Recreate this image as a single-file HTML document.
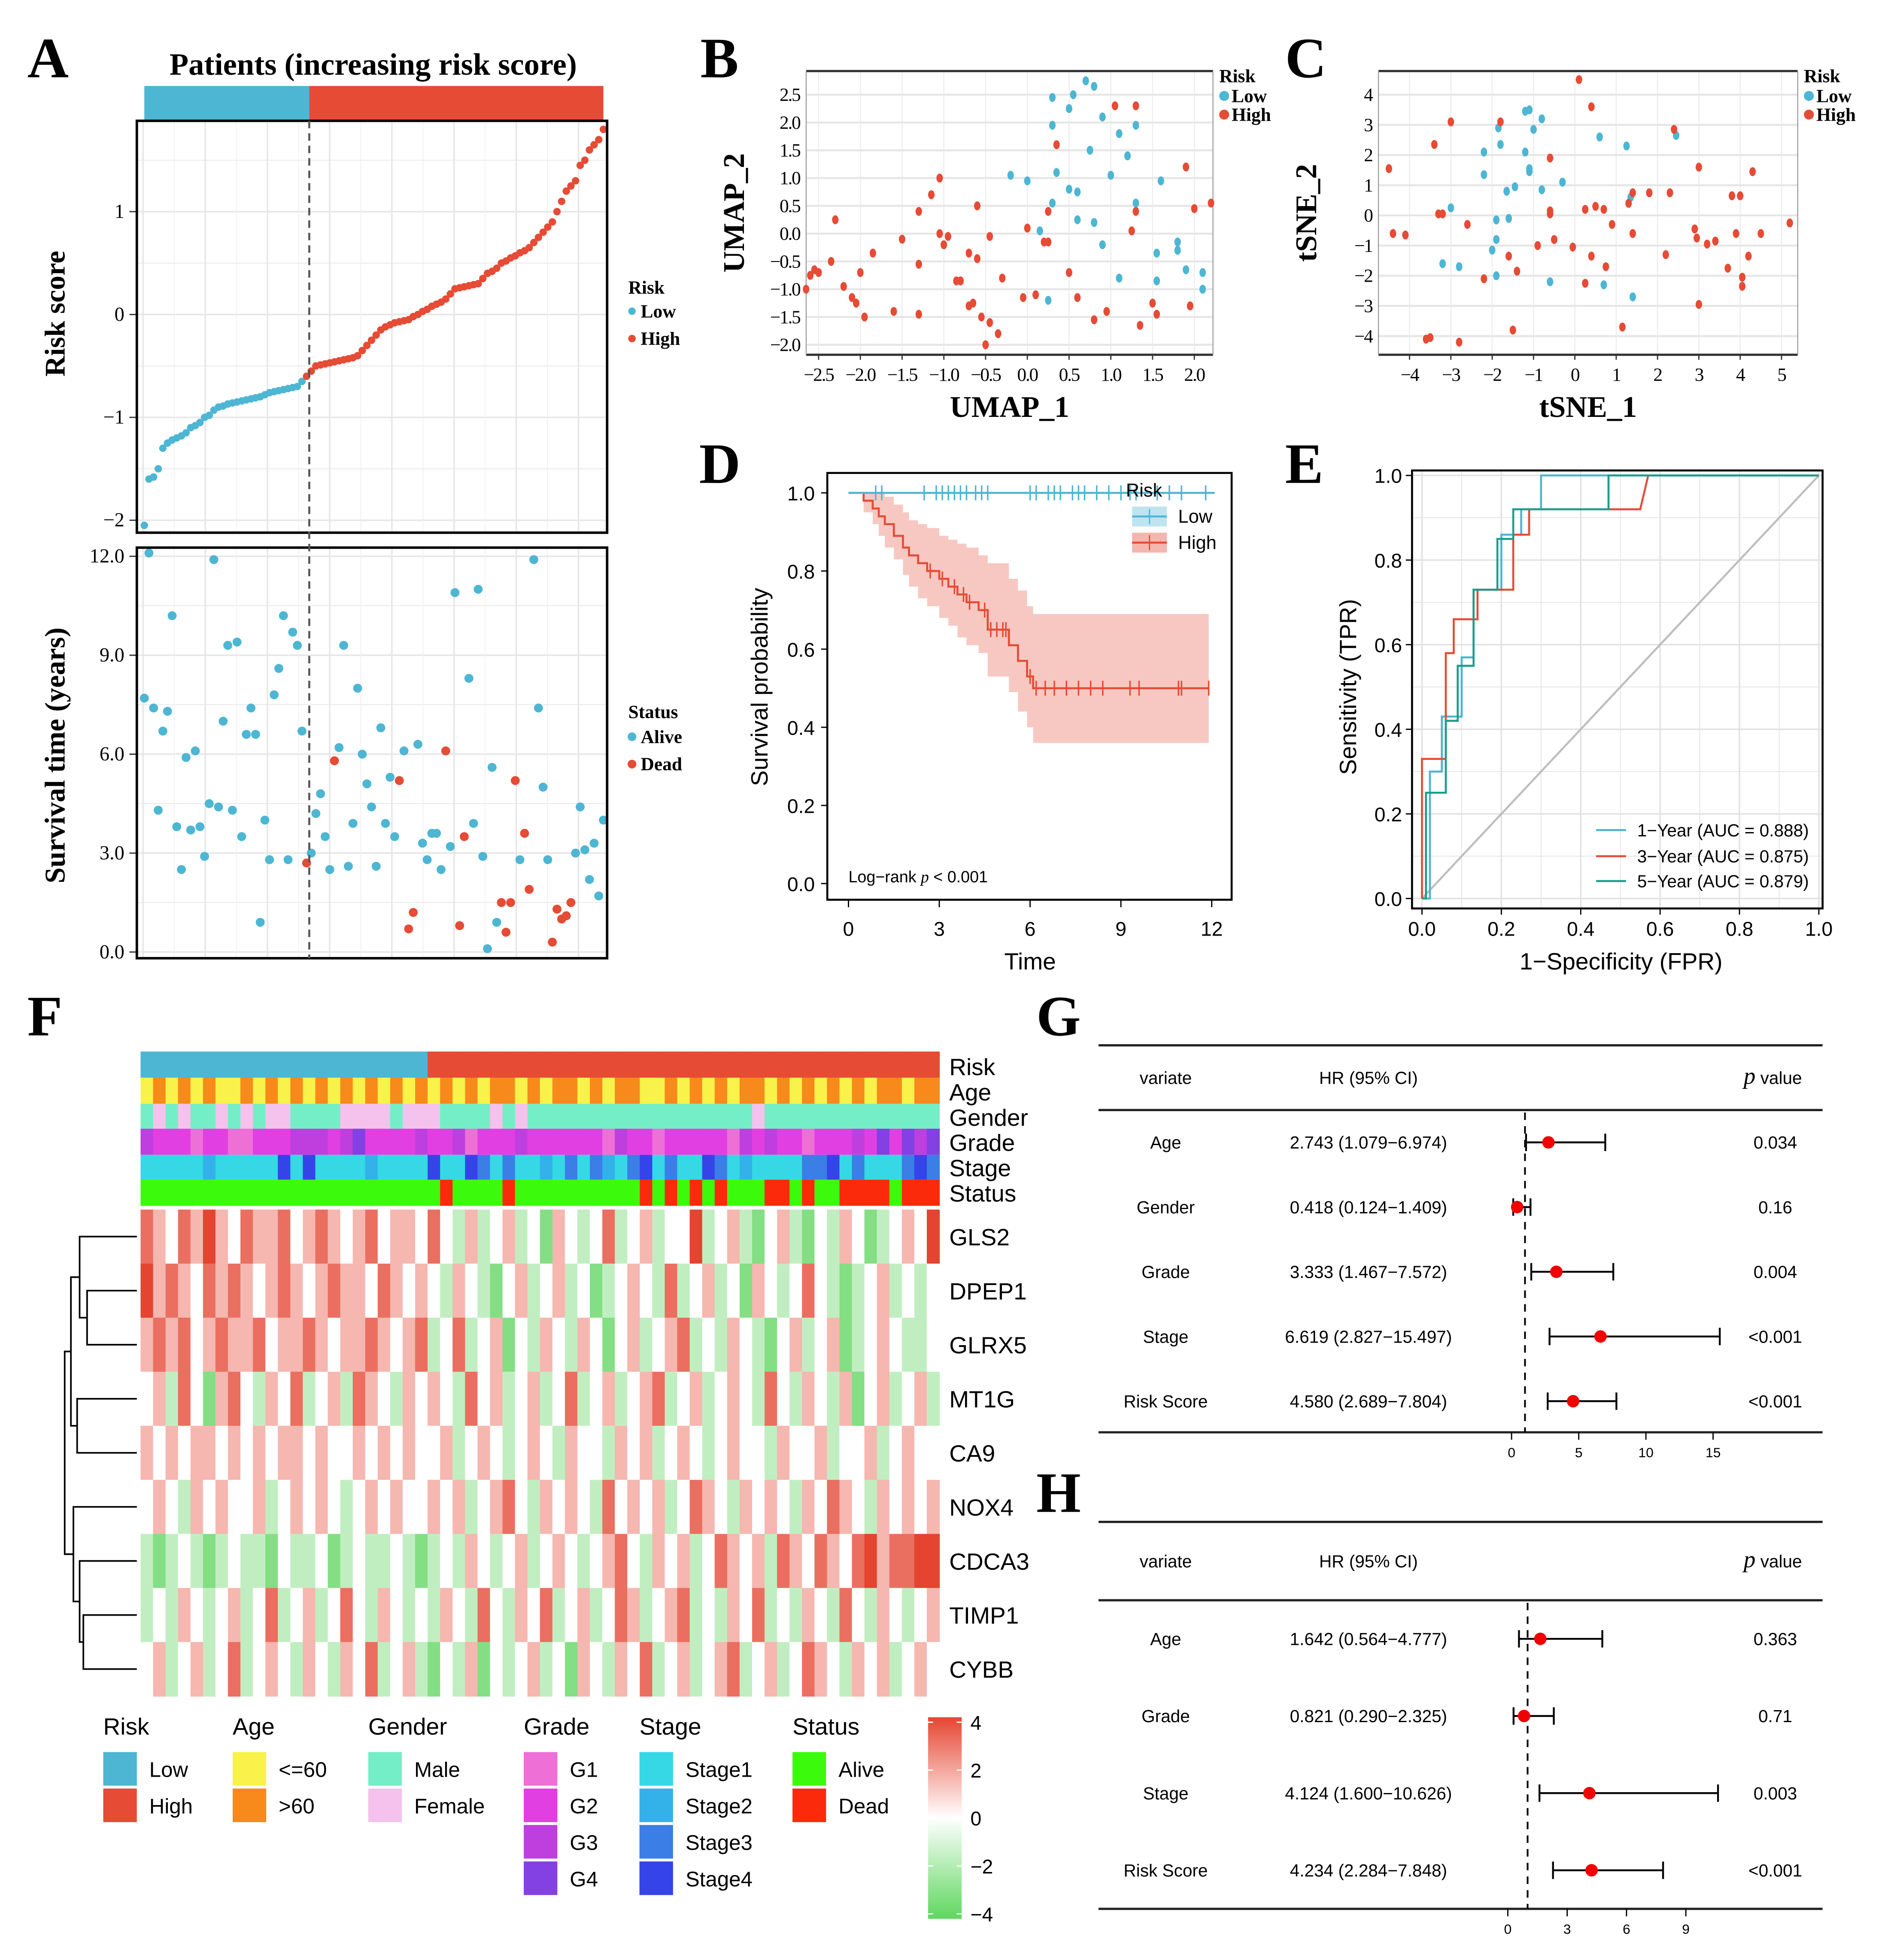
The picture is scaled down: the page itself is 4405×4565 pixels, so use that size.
<!DOCTYPE html>
<html><head><meta charset="utf-8">
<style>
html,body{margin:0;padding:0;background:#fff;}
svg{display:block;}
</style></head>
<body>
<svg id="fig" xmlns="http://www.w3.org/2000/svg" width="4405" height="4565" viewBox="0 0 1520 1575">
<rect x="0" y="0" width="1520" height="1575" fill="#fff"/>
<g font-family="Liberation Serif" font-weight="bold" font-size="46" fill="#000">
<text x="22" y="62">A</text>
<text x="563" y="62">B</text>
<text x="1033" y="62">C</text>
<text x="562" y="388">D</text>
<text x="1033" y="388">E</text>
<text x="22" y="832">F</text>
<text x="833" y="832">G</text>
<text x="833" y="1215">H</text>
</g>
<g id="pA"></g>
<g id="pB"></g>
<g id="pC"></g>
<g id="pD"></g>
<g id="pE"></g>
<g id="pF"></g>
<g id="pG"></g>
<g id="pH"></g>
</svg>
<script>
const riskScores=[-2.05,-1.6,-1.58,-1.5,-1.3,-1.25,-1.22,-1.2,-1.18,-1.15,-1.1,-1.08,-1.05,-1.0,-0.98,-0.93,-0.9,-0.89,-0.87,-0.86,-0.85,-0.84,-0.83,-0.82,-0.81,-0.8,-0.78,-0.76,-0.75,-0.74,-0.73,-0.72,-0.71,-0.7,-0.65,
-0.6,-0.55,-0.5,-0.49,-0.48,-0.47,-0.46,-0.45,-0.44,-0.43,-0.42,-0.4,-0.35,-0.3,-0.25,-0.2,-0.15,-0.12,-0.1,-0.08,-0.07,-0.06,-0.05,-0.02,0.0,0.03,0.05,0.08,0.1,0.12,0.15,0.2,0.25,0.26,0.27,0.28,0.29,0.3,0.35,0.4,0.42,0.45,0.5,0.52,0.55,0.57,0.6,0.62,0.65,0.7,0.75,0.8,0.85,0.9,1.0,1.1,1.2,1.25,1.3,1.45,1.5,1.6,1.65,1.7,1.8];
const nLow=35;
const survTimes=[7.7,12.1,7.4,4.3,6.7,7.3,10.2,3.8,2.5,5.9,3.7,6.1,3.8,2.9,4.5,11.9,4.4,7.0,9.3,4.3,9.4,3.5,6.6,7.4,6.6,0.9,4.0,2.8,7.8,8.6,10.2,2.8,9.7,9.3,6.7,
2.7,3.0,4.2,4.8,3.5,2.5,5.8,6.2,9.3,2.6,3.9,8.0,6.0,5.1,4.4,2.6,6.8,3.9,5.3,3.5,5.2,6.1,0.7,1.2,6.3,3.3,2.8,3.6,3.6,2.5,6.1,3.2,10.9,0.8,3.5,8.3,3.9,11.0,2.9,0.1,5.6,0.9,1.5,0.6,1.5,5.2,2.8,3.6,1.9,11.9,7.4,5.0,2.8,0.3,1.3,1.0,1.1,1.5,3.0,4.4,3.1,2.2,3.3,1.7,4.0];
const survStatus=[0,0,0,0,0,0,0,0,0,0,0,0,0,0,0,0,0,0,0,0,0,0,0,0,0,0,0,0,0,0,0,0,0,0,0,
1,0,0,0,0,0,1,0,0,0,0,0,0,0,0,0,0,0,0,0,1,0,1,1,0,0,0,0,0,0,1,0,0,1,1,0,0,0,0,0,0,0,1,1,1,1,0,1,1,0,0,0,0,1,1,1,1,1,0,0,0,0,0,0,0];

const umapLowX=[0.7,0.8,0.3,0.55,1.1,0.3,0.9,0.5,0.75,0.35,1.3,-0.2,0.0,0.5,0.6,1.0,1.2,0.3,0.6,1.3,0.8,1.6,0.15,1.55,1.8,1.8,1.9,2.1,2.1,1.55,0.25,1.1,0.9];
const umapLowY=[2.75,2.65,2.45,2.5,1.8,1.95,2.1,2.25,1.5,1.1,1.95,1.05,0.95,0.8,0.75,1.05,1.4,0.55,0.25,0.55,0.2,0.95,0.05,-0.85,-0.15,-0.3,-0.65,-0.7,-1.0,-0.35,-1.2,-0.8,-0.2];
const umapHighX=[-2.65,-2.6,-2.55,-2.5,-2.35,-2.2,-2.1,-2.05,-2.0,-1.95,-2.3,-1.85,-1.6,-1.3,-1.3,-1.15,-1.05,-1.05,-1.0,-0.95,-0.8,-0.7,-0.65,-0.6,-0.55,-0.5,-0.45,-0.35,-0.3,-0.6,-0.45,0.0,-0.05,0.1,0.2,0.25,0.35,0.5,0.6,0.8,0.95,1.05,1.3,1.3,1.25,1.5,1.55,1.9,1.95,2.0,2.2,1.35,-1.5,-0.7,0.25,-1.3,-0.85];
const umapHighY=[-1.0,-0.75,-0.65,-0.7,-0.5,-0.95,-1.15,-1.25,-0.7,-1.5,0.25,-0.35,-1.4,-0.55,0.4,0.7,0.0,1.0,-0.2,-0.05,-0.85,-0.35,-1.25,-0.45,-1.5,-2.0,-1.6,-1.8,-0.8,0.5,-0.05,0.1,-1.15,-1.1,-0.15,0.4,1.6,-0.7,-1.15,-1.55,-1.4,2.3,0.4,2.3,0.05,-1.25,-1.45,1.2,-1.3,0.45,0.55,-1.65,-0.1,-1.3,-0.15,-1.45,-0.85];

const tsneLowX=[-1.2,-1.1,-0.8,-1.0,-1.8,-2.2,-1.2,-1.1,-1.1,-1.45,-0.3,-0.8,-0.3,-2.2,-3.0,-1.9,-1.6,-1.9,-2.0,-3.2,-2.8,-0.6,0.7,1.4,0.6,1.25,2.45,-1.85,-1.65,-1.9,1.35];
const tsneLowY=[3.45,3.5,3.2,2.85,2.35,2.1,2.1,1.55,1.45,0.95,1.1,0.85,1.1,1.35,0.25,-0.15,-0.1,-0.8,-1.15,-1.6,-1.7,-2.2,-2.3,-2.7,2.6,2.3,2.65,2.9,0.8,-2.0,0.6];
const tsneHighX=[-4.5,-4.4,-4.1,-3.6,-3.5,-2.8,-3.0,-3.4,-3.3,-3.2,-2.6,-2.2,-1.8,-1.6,-1.4,-1.5,-0.9,-0.6,-0.6,-0.5,-0.6,0.1,0.25,0.4,0.5,0.7,0.75,0.9,1.15,1.3,1.4,1.4,1.8,2.2,2.3,2.4,2.9,3.0,3.0,3.2,3.4,3.7,3.8,3.9,4.0,4.05,4.2,4.3,4.5,5.2,4.05,2.95,0.25,-0.05,0.4];
const tsneHighY=[1.55,-0.6,-0.65,-4.1,-4.05,-4.2,3.1,2.35,0.05,0.05,-0.3,-2.1,3.1,-1.35,-1.85,-3.8,-1.0,1.9,0.15,-0.8,0.05,4.5,0.2,3.6,0.3,0.2,-1.7,-0.3,-3.7,0.4,0.75,-0.6,0.75,-1.3,0.75,2.85,-0.45,-2.95,1.6,-0.95,-0.85,-1.75,0.65,-0.6,0.65,-2.05,-1.35,1.45,-0.6,-0.25,-2.35,-0.75,-2.25,-1.05,-1.35];

const kmTimes=[0,0.5,0.8,1.0,1.2,1.5,1.8,2.0,2.3,2.6,3.0,3.3,3.6,3.9,4.3,4.6,5.3,5.6,5.9,6.1,11.9];
const kmHigh=[1.0,0.98,0.96,0.94,0.92,0.89,0.86,0.84,0.82,0.80,0.78,0.76,0.74,0.72,0.70,0.65,0.61,0.57,0.53,0.50,0.50];
const kmLower=[1.0,0.95,0.92,0.89,0.86,0.83,0.79,0.76,0.73,0.71,0.68,0.66,0.63,0.61,0.59,0.53,0.49,0.44,0.40,0.36,0.36];
const kmUpper=[1.0,1.0,1.0,1.0,0.99,0.97,0.95,0.93,0.92,0.91,0.89,0.88,0.87,0.86,0.84,0.82,0.78,0.75,0.71,0.69,0.69];
const censorLow=[0.9,1.1,2.5,2.9,3.1,3.3,3.5,3.7,3.9,4.2,4.4,4.6,6.0,6.2,6.6,6.8,7.0,7.4,7.6,7.8,8.2,8.6,9.0,9.3,9.5,10.2,10.6,11.0,11.8];
const censorHigh=[2.7,3.1,3.5,3.8,4.0,4.5,4.7,4.9,5.1,5.2,6.0,6.2,6.5,6.8,7.2,7.6,8.0,8.4,9.3,9.6,10.9,11.0,11.9];

const roc1X=[0,0.02,0.02,0.05,0.05,0.1,0.1,0.13,0.13,0.2,0.2,0.25,0.25,0.3,0.3,1];
const roc1Y=[0,0,0.3,0.3,0.43,0.43,0.57,0.57,0.73,0.73,0.86,0.86,0.92,0.92,1.0,1];
const roc3X=[0,0,0.06,0.06,0.08,0.08,0.14,0.14,0.23,0.23,0.27,0.27,0.55,0.57,1];
const roc3Y=[0,0.33,0.33,0.58,0.58,0.66,0.66,0.73,0.73,0.86,0.86,0.92,0.92,1.0,1];
const roc5X=[0,0.01,0.01,0.06,0.06,0.09,0.09,0.13,0.13,0.19,0.19,0.23,0.23,0.47,0.47,1];
const roc5Y=[0,0,0.25,0.25,0.42,0.42,0.55,0.55,0.73,0.73,0.85,0.85,0.92,0.92,1.0,1];

const heatRisk="LLLLLLLLLLLLLLLLLLLLLLLHHHHHHHHHHHHHHHHHHHHHHHHHHHHHHHHHHHHHHHHH".split("");
const heatAge="YOYOYOYYOYOYOYOYOYOYOYOYOYOYOOYOYOOYOYOOYYOYOYOYOOYOYOYOYOYOOYOO".split("");
const heatGender="MFMFMMFMFMFFMMMMFFFFMFFFMMMMFMFMMMMMMMMMMMMMMMMMMFMMMMMMMMMMMMMM".split("");
const heatGrade="3222122112223332342222322312223222222132212222213232212223242434".split("");
const heatStage="1111121111141411112111141143131121313213413114312111133413111343".split("");
const heatStatus="AAAAAAAAAAAAAAAAAAAAAAAADAAAADAAAAAAAAAADADADADAAADDADAADDDDADDD".split("");
const genes=["GLS2","DPEP1","GLRX5","MT1G","CA9","NOX4","CDCA3","TIMP1","CYBB"];
const exprGLS2=[2,1,0,2,1,3,1,0,2,1,1,2,0,1,2,1,0,1,2,0,1,1,0,2,0,-1,1,-1,0,1,-1,0,-2,1,0,-1,0,2,-1,0,1,-1,0,0,3,-1,0,1,-1,-2,0,1,-1,-2,0,-1,1,0,-2,-1,0,1,0,3];
const exprDPEP1=[3,1,2,1,0,2,1,2,1,0,1,2,1,0,1,2,1,1,0,2,1,0,1,0,-1,1,0,-1,-2,0,1,-1,0,1,-1,0,-2,-1,0,1,0,-1,2,-1,0,1,-1,0,-2,1,0,-1,0,2,0,-1,-2,-1,0,1,-1,0,-1,0];
const exprGLRX5=[1,2,1,2,0,1,2,1,1,2,0,1,1,2,1,0,1,1,2,1,0,1,2,-1,0,2,-1,0,1,-2,0,-1,1,0,-1,1,0,-2,0,1,-1,0,1,2,-1,0,-1,1,0,-1,-2,0,1,-1,0,1,-2,-1,0,1,0,-1,-1,0];
const exprMT1G=[0,1,-1,2,0,-2,1,2,0,-1,1,0,2,-1,0,1,-1,2,1,0,-1,1,0,1,0,-1,2,0,1,-1,0,1,-1,0,2,-1,0,1,-1,0,1,2,-1,0,1,-1,0,1,0,-1,2,0,-1,1,0,-1,1,-2,0,1,-1,0,1,-1];
const exprCA9=[1,0,1,0,1,1,0,1,0,1,0,1,1,0,1,0,0,1,0,1,0,1,0,0,1,-1,0,1,0,-1,0,1,0,-1,1,0,0,-1,1,0,1,-1,0,1,0,-1,0,1,0,0,-1,1,0,0,1,-1,0,0,1,-1,0,1,0,0];
const exprNOX4=[0,1,0,-1,1,0,1,0,0,1,-1,0,1,0,1,0,-1,0,1,0,1,0,0,1,0,1,-1,0,1,2,0,-1,1,0,1,0,-1,2,0,1,0,1,-1,0,2,1,0,-1,1,0,1,0,-1,1,0,2,1,0,-1,1,0,1,0,1];
const exprCDCA3=[-1,-2,-1,0,-1,-2,-1,0,-1,-1,-2,0,-1,-1,0,-2,-1,0,-1,-1,0,-1,-2,-1,0,-1,1,0,-1,0,1,-1,0,1,0,-1,0,1,2,0,-1,1,0,1,-1,0,2,1,0,1,-1,2,1,0,2,1,0,2,3,1,2,2,3,3];
const exprTIMP1=[-1,0,-1,1,0,-1,0,1,-1,0,2,-1,0,1,-1,0,2,0,-1,1,0,-1,0,-1,1,0,-1,2,0,-1,1,0,2,-1,0,1,-1,0,2,1,-1,0,1,2,-1,0,-1,1,0,2,-1,0,-1,1,0,-1,2,0,-1,1,0,-1,0,1];
const exprCYBB=[0,1,-1,0,1,-1,0,2,-1,0,1,0,-1,1,0,-1,1,0,2,-1,0,1,-1,-2,0,-1,1,-2,0,-1,0,1,-1,0,-2,1,0,-1,1,0,2,-1,0,1,-1,0,1,2,-1,0,1,-1,0,2,1,0,-1,1,0,1,-1,0,1,0];

const forestGVars=["Age","Gender","Grade","Stage","Risk Score"];
const forestGHR=[2.743,0.418,3.333,6.619,4.580];
const forestGLo=[1.079,0.124,1.467,2.827,2.689];
const forestGHi=[6.974,1.409,7.572,15.497,7.804];
const forestGP=["0.034","0.16","0.004","<0.001","<0.001"];
const forestGTicks=[0,5,10,15];
const forestHVars=["Age","Grade","Stage","Risk Score"];
const forestHHR=[1.642,0.821,4.124,4.234];
const forestHLo=[0.564,0.290,1.600,2.284];
const forestHHi=[4.777,2.325,10.626,7.848];
const forestHP=["0.363","0.71","0.003","<0.001"];
const forestHTicks=[0,3,6,9];

const NS="http://www.w3.org/2000/svg";
const LOW="#4DB6D3", HIGH="#E64B35";
function mk(tag,attrs,parent){const e=document.createElementNS(NS,tag);for(const k in attrs)e.setAttribute(k,attrs[k]);parent.appendChild(e);return e;}
function txt(s,attrs,parent){const e=mk("text",attrs,parent);e.textContent=s;return e;}
function lin(a,b){return v=>a[1]+(v-a[0])*(b[1]-a[1])/(b[0]-a[0]);}

(function(){
const g=document.getElementById("pA");
const t=txt("Patients (increasing risk score)",{x:300,y:60,"text-anchor":"middle","font-family":"Liberation Serif","font-weight":"bold","font-size":25},g);


const n=riskScores.length;
const xs=i=>116+i*(369/(n-1));
const splitX=(xs(nLow-1)+xs(nLow))/2+4;
let r=mk("rect",{x:116,y:69,width:splitX-116,height:28,fill:LOW},g);


r=mk("rect",{x:splitX,y:69,width:485-splitX,height:28,fill:HIGH},g);


const ys=lin([-2,418],[1,170]);
for(let v=-2;v<=1.5;v+=0.5){mk("line",{x1:110,x2:488,y1:ys(v),y2:ys(v),stroke:"#e6e6e6","stroke-width":v%1===0?1.2:0.6},g);}
for(let gx=115;gx<488;gx+=50){mk("line",{x1:gx,x2:gx,y1:97,y2:428,stroke:"#e6e6e6","stroke-width":1.2},g);mk("line",{x1:gx+25,x2:gx+25,y1:97,y2:428,stroke:"#efefef","stroke-width":0.6},g);}
[-2,-1,0,1].forEach(v=>{const e=txt(v<0?"\u2212"+(-v):String(v),{x:100,y:ys(v)+5,"text-anchor":"end","font-family":"Liberation Serif","font-size":16},g);


mk("line",{x1:104,x2:110,y1:ys(v),y2:ys(v),stroke:"#333"},g);});
riskScores.forEach((v,i)=>{const c=mk("circle",{cx:xs(i),cy:ys(v),r:3,fill:i<nLow?LOW:HIGH},g);

});
let b=mk("rect",{x:110,y:97,width:378,height:331,fill:"none",stroke:"#000","stroke-width":2},g);


let yl=txt("Risk score",{transform:"translate(52,252) rotate(-90)","text-anchor":"middle","font-family":"Liberation Serif","font-weight":"bold","font-size":23},g);


txt("Risk",{x:505,y:236,"font-family":"Liberation Serif","font-weight":"bold","font-size":15},g);
mk("circle",{cx:508,cy:250,r:3,fill:LOW},g);txt("Low",{x:515,y:255,"font-family":"Liberation Serif","font-weight":"bold","font-size":15},g);
mk("circle",{cx:508,cy:272,r:3,fill:HIGH},g);txt("High",{x:515,y:277,"font-family":"Liberation Serif","font-weight":"bold","font-size":15},g);
const ys2=lin([0,765],[12,447]);
for(let v=0;v<=12;v+=1.5){mk("line",{x1:110,x2:488,y1:ys2(v),y2:ys2(v),stroke:"#e6e6e6","stroke-width":v%3===0?1.2:0.6},g);}
for(let gx=115;gx<488;gx+=50){mk("line",{x1:gx,x2:gx,y1:440,y2:770,stroke:"#e6e6e6","stroke-width":1.2},g);mk("line",{x1:gx+25,x2:gx+25,y1:440,y2:770,stroke:"#efefef","stroke-width":0.6},g);}
[0,3,6,9,12].forEach(v=>{const e=txt(v.toFixed(1),{x:100,y:ys2(v)+5,"text-anchor":"end","font-family":"Liberation Serif","font-size":16},g);


mk("line",{x1:104,x2:110,y1:ys2(v),y2:ys2(v),stroke:"#333"},g);});
survTimes.forEach((v,i)=>{const c=mk("circle",{cx:xs(i),cy:ys2(v),r:3.6,fill:survStatus[i]?HIGH:LOW},g);

});
b=mk("rect",{x:110,y:440,width:378,height:330,fill:"none",stroke:"#000","stroke-width":2},g);


let dl=mk("line",{x1:splitX,x2:splitX,y1:97,y2:770,stroke:"#555","stroke-width":1.6,"stroke-dasharray":"6,4"},g);


yl=txt("Survival time (years)",{transform:"translate(52,607) rotate(-90)","text-anchor":"middle","font-family":"Liberation Serif","font-weight":"bold","font-size":23},g);


txt("Status",{x:505,y:577,"font-family":"Liberation Serif","font-weight":"bold","font-size":15},g);
mk("circle",{cx:508,cy:592,r:3.5,fill:LOW},g);txt("Alive",{x:515,y:597,"font-family":"Liberation Serif","font-weight":"bold","font-size":15},g);
mk("circle",{cx:508,cy:614,r:3.5,fill:HIGH},g);txt("Dead",{x:515,y:619,"font-family":"Liberation Serif","font-weight":"bold","font-size":15},g);
})();

function scatter(gid,box,xd,yd,xticks,yticks,fmt,lowX,lowY,highX,highY,xlab,ylab,legx,nm){
const g=document.getElementById(gid);
const xs=lin(xd[0],xd[1]), ys=lin(yd[0],yd[1]);
const [x0,y0,x1,y1]=box;
xticks.forEach(v=>{mk("line",{x1:xs(v),x2:xs(v),y1:y0,y2:y1,stroke:"#ececec","stroke-width":0.8},g);
const e=txt(fmt(v),{x:xs(v),y:y1+21,"text-anchor":"middle","font-family":"Liberation Serif","font-size":15,"letter-spacing":"-0.8"},g);


mk("line",{x1:xs(v),x2:xs(v),y1:y1,y2:y1+4,stroke:"#333"},g);});
yticks.forEach(v=>{mk("line",{x1:x0,x2:x1,y1:ys(v),y2:ys(v),stroke:"#e6e6e6","stroke-width":1.6},g);
const e=txt(fmt(v),{x:x0-5,y:ys(v)+5,"text-anchor":"end","font-family":"Liberation Serif","font-size":15,"letter-spacing":"-0.8"},g);

});
mk("line",{x1:x0,x2:x1,y1:y0,y2:y0,stroke:"#333","stroke-width":1.8},g);
mk("line",{x1:x0,x2:x1,y1:y1,y2:y1,stroke:"#333","stroke-width":1.8},g);
mk("line",{x1:x0,x2:x0,y1:y0,y2:y1,stroke:"#999","stroke-width":0.8},g);
mk("line",{x1:x1,x2:x1,y1:y0,y2:y1,stroke:"#999","stroke-width":0.8},g);
lowX.forEach((v,i)=>{const c=mk("ellipse",{cx:xs(v),cy:ys(lowY[i]),rx:2.6,ry:3.6,fill:LOW},g);

});
highX.forEach((v,i)=>{const c=mk("ellipse",{cx:xs(v),cy:ys(highY[i]),rx:2.6,ry:3.6,fill:HIGH},g);

});
let e=txt(xlab,{x:(x0+x1)/2,y:y1+50,"text-anchor":"middle","font-family":"Liberation Serif","font-weight":"bold","font-size":24},g);


e=txt(ylab,{transform:`translate(${x0-50},${(y0+y1)/2}) rotate(-90)`,"text-anchor":"middle","font-family":"Liberation Serif","font-weight":"bold","font-size":24},g);


txt("Risk",{x:legx,y:66,"font-family":"Liberation Serif","font-weight":"bold","font-size":15},g);
mk("circle",{cx:legx+4,cy:77,r:4,fill:LOW},g);txt("Low",{x:legx+10,y:82,"font-family":"Liberation Serif","font-weight":"bold","font-size":15},g);
mk("circle",{cx:legx+4,cy:92,r:4,fill:HIGH},g);txt("High",{x:legx+10,y:97,"font-family":"Liberation Serif","font-weight":"bold","font-size":15},g);
}
scatter("pB",[648,57,975,285],[[-2.5,658],[2.0,960]],[[2.5,76],[-2.0,277]],[-2.5,-2,-1.5,-1,-0.5,0,0.5,1,1.5,2],[-2,-1.5,-1,-0.5,0,0.5,1,1.5,2,2.5],
v=>(v<0?"\u2212":"")+Math.abs(v).toFixed(1),umapLowX,umapLowY,umapHighX,umapHighY,"UMAP_1","UMAP_2",980,"umap");
scatter("pC",[1108,57,1445,285],[[-4,1133],[5,1432]],[[4,76],[-4,270]],[-4,-3,-2,-1,0,1,2,3,4,5],[-4,-3,-2,-1,0,1,2,3,4],
v=>(v<0?"\u2212":"")+Math.abs(v),tsneLowX,tsneLowY,tsneHighX,tsneHighY,"tSNE_1","tSNE_2",1450,"tsne");

(function(){
const g=document.getElementById("pD");
const xs=lin([0,682],[12,974]), ys=lin([0,710],[1,396]);
let up="",lo="";
for(let i=0;i<kmTimes.length;i++){
 const xa=xs(kmTimes[i]), xb=xs(i+1<kmTimes.length?kmTimes[i+1]:kmTimes[i]);
 up+=(i?"L":"M")+xa+","+ys(kmUpper[i])+"L"+xb+","+ys(kmUpper[i]);
}
for(let i=kmTimes.length-1;i>=0;i--){
 const xa=xs(kmTimes[i]), xb=xs(i+1<kmTimes.length?kmTimes[i+1]:kmTimes[i]);
 lo+="L"+xb+","+ys(kmLower[i])+"L"+xa+","+ys(kmLower[i]);
}
let band=mk("path",{d:up+lo+"Z",fill:"#F4B6AE","fill-opacity":0.75},g);


let d="";
for(let i=0;i<kmTimes.length;i++){
 const xa=xs(kmTimes[i]);
 d+=(i?"L"+xa+","+ys(kmHigh[i-1])+"L":"M")+xa+","+ys(kmHigh[i]);
}
let p=mk("path",{d:d,fill:"none",stroke:HIGH,"stroke-width":1.6},g);


p=mk("line",{x1:xs(0),x2:xs(12.1),y1:ys(1),y2:ys(1),stroke:LOW,"stroke-width":1.6},g);


censorLow.forEach(t=>{const c=mk("line",{x1:xs(t),x2:xs(t),y1:ys(1)-6,y2:ys(1)+6,stroke:LOW,"stroke-width":1.2},g);

});
const stepAt=t=>{let s=1;for(let i=0;i<kmTimes.length;i++){if(kmTimes[i]<=t)s=kmHigh[i];}return s;};
censorHigh.forEach(t=>{const c=mk("line",{x1:xs(t),x2:xs(t),y1:ys(stepAt(t))-6,y2:ys(stepAt(t))+6,stroke:HIGH,"stroke-width":1.2},g);

});
let f=mk("rect",{x:665,y:380,width:325,height:343,fill:"none",stroke:"#000","stroke-width":1.6},g);


[0,0.2,0.4,0.6,0.8,1.0].forEach(v=>{mk("line",{x1:660,x2:665,y1:ys(v),y2:ys(v),stroke:"#000"},g);
const e=txt(v.toFixed(1),{x:655,y:ys(v)+6,"text-anchor":"end","font-family":"Liberation Sans","font-size":16},g);

});
[0,3,6,9,12].forEach(v=>{mk("line",{x1:xs(v),x2:xs(v),y1:723,y2:729,stroke:"#000"},g);
const e=txt(String(v),{x:xs(v),y:752,"text-anchor":"middle","font-family":"Liberation Sans","font-size":16},g);

});
let e=txt("Time",{x:828,y:779,"text-anchor":"middle","font-family":"Liberation Sans","font-size":19},g);


e=txt("Survival probability",{transform:"translate(617,552) rotate(-90)","text-anchor":"middle","font-family":"Liberation Sans","font-size":19},g);


txt("Risk",{x:905,y:399,"font-family":"Liberation Sans","font-size":15},g);
mk("rect",{x:910,y:407,width:28,height:16,fill:"#BFE4EF"},g);
mk("line",{x1:910,x2:938,y1:415,y2:415,stroke:LOW,"stroke-width":1.6},g);mk("line",{x1:924,x2:924,y1:409,y2:421,stroke:LOW},g);
txt("Low",{x:947,y:420,"font-family":"Liberation Sans","font-size":15},g);
mk("rect",{x:910,y:428,width:28,height:16,fill:"#F4B6AE"},g);
mk("line",{x1:910,x2:938,y1:436,y2:436,stroke:HIGH,"stroke-width":1.6},g);mk("line",{x1:924,x2:924,y1:430,y2:442,stroke:HIGH},g);
txt("High",{x:947,y:441,"font-family":"Liberation Sans","font-size":15},g);
const lr=txt("Log\u2212rank ",{x:682,y:709,"font-family":"Liberation Sans","font-size":13},g);
const ts=mk("tspan",{"font-style":"italic","font-family":"Liberation Serif"},lr);ts.textContent="p";
const ts2=mk("tspan",{},lr);ts2.textContent=" < 0.001";


})();

(function(){
const g=document.getElementById("pE");
const xs=lin([0,1143],[1,1462]), ys=lin([0,722],[1,382]);
for(let v=0;v<=1.001;v+=0.1){const w=Math.round(v*10)%2===0?1.2:0.6;
mk("line",{x1:xs(v),x2:xs(v),y1:378,y2:730,stroke:"#e2e2e2","stroke-width":w},g);
mk("line",{x1:1135,x2:1465,y1:ys(v),y2:ys(v),stroke:"#e2e2e2","stroke-width":w},g);}
let dg=mk("line",{x1:xs(0),y1:ys(0),x2:xs(1),y2:ys(1),stroke:"#BDBDBD","stroke-width":1.6},g);


function curve(X,Y,col,nm){const d=X.map((v,i)=>(i?"L":"M")+xs(v)+","+ys(Y[i])).join("");
const p=mk("path",{d:d,fill:"none",stroke:col,"stroke-width":1.6},g);

}
curve(roc1X,roc1Y,"#4EB3D3","roc-1-year");
curve(roc3X,roc3Y,"#E64B35","roc-3-year");
curve(roc5X,roc5Y,"#1A9E8A","roc-5-year");
let f=mk("rect",{x:1135,y:378,width:330,height:352,fill:"none",stroke:"#000","stroke-width":1.6},g);


[0,0.2,0.4,0.6,0.8,1.0].forEach(v=>{mk("line",{x1:1130,x2:1135,y1:ys(v),y2:ys(v),stroke:"#000"},g);
let e=txt(v.toFixed(1),{x:1127,y:ys(v)+6,"text-anchor":"end","font-family":"Liberation Sans","font-size":16},g);


mk("line",{x1:xs(v),x2:xs(v),y1:730,y2:735,stroke:"#000"},g);
e=txt(v.toFixed(1),{x:xs(v),y:752,"text-anchor":"middle","font-family":"Liberation Sans","font-size":16},g);

});
let e=txt("1\u2212Specificity (FPR)",{x:1303,y:779,"text-anchor":"middle","font-family":"Liberation Sans","font-size":19},g);


e=txt("Sensitivity (TPR)",{transform:"translate(1090,552) rotate(-90)","text-anchor":"middle","font-family":"Liberation Sans","font-size":19},g);


[["1\u2212Year (AUC = 0.888)","#4EB3D3",667],["3\u2212Year (AUC = 0.875)","#E64B35",688],["5\u2212Year (AUC = 0.879)","#1A9E8A",708]].forEach(l=>{
mk("line",{x1:1283,x2:1307,y1:l[2],y2:l[2],stroke:l[1],"stroke-width":1.6},g);
const t=txt(l[0],{x:1316,y:l[2]+5,"font-family":"Liberation Sans","font-size":14},g);

});
})();

(function(){
const g=document.getElementById("pF");
const X0=113,X1=755,n=heatRisk.length,cw=(X1-X0)/n;
const colRisk={L:"#4DB6D3",H:"#E64B35"}, colAge={Y:"#F8F24A",O:"#F78A1A"}, colGen={M:"#74EEC6",F:"#F4C2EC"};
const colGrade={"1":"#EE6FD6","2":"#E23FE3","3":"#BE3FDE","4":"#8340E2"};
const colStage={"1":"#35D8E4","2":"#32B2E8","3":"#3A7EE6","4":"#3444E8"};
const colStat={A:"#3CFA0C",D:"#FA2A0A"};
const rows=[[heatRisk,colRisk,845,866,"risk"],[heatAge,colAge,866,887,"age"],[heatGender,colGen,887,907,"gender"],[heatGrade,colGrade,907,928,"grade"],[heatStage,colStage,928,948,"stage"],[heatStatus,colStat,948,969,"status"]];
rows.forEach(r=>{r[0].forEach((v,i)=>{if(i>=n)return;const c=mk("rect",{x:X0+i*cw,y:r[2],width:cw+0.4,height:r[3]-r[2],fill:r[1][v]||"#ccc"},g);

});});
["Risk","Age","Gender","Grade","Stage","Status"].forEach((s,i)=>{const t=txt(s,{x:763,y:864+i*20.3,"font-family":"Liberation Sans","font-size":19},g);

});
const expr=[exprGLS2,exprDPEP1,exprGLRX5,exprMT1G,exprCA9,exprNOX4,exprCDCA3,exprTIMP1,exprCYBB];
const H0=972,rh=(1363-972)/9;
function col(v){const t=Math.max(-1,Math.min(1,v/2.6));
 if(t>=0){const a=t;return `rgb(${Math.round(255+(228-255)*a)},${Math.round(255+(68-255)*a)},${Math.round(255+(48-255)*a)})`;}
 const a=-t;return `rgb(${Math.round(255+(95-255)*a)},${Math.round(255+(212-255)*a)},${Math.round(255+(95-255)*a)})`;}
expr.forEach((row,j)=>{row.forEach((v,i)=>{if(i>=n)return;const c=mk("rect",{x:X0+i*cw,y:H0+j*rh,width:cw+0.4,height:rh+0.4,fill:col(v)},g);

});
const t=txt(genes[j],{x:763,y:H0+j*rh+rh/2+7,"font-family":"Liberation Sans","font-size":19},g);

});
const gy=j=>H0+j*rh+rh/2;
const dd=mk("g",{stroke:"#000","stroke-width":1.3,fill:"none"},g);


const m1=(gy(1)+gy(2))/2, m2=(gy(0)+m1)/2, m3=(gy(3)+gy(4))/2, m4=(m2+m3)/2;
const m5=(gy(7)+gy(8))/2, m6=(gy(6)+m5)/2, m7=(gy(5)+m6)/2;
const P=[["M110",gy(1),"H70V",gy(2),"H110"],["M110",gy(0),"H64V",m1,"H70"],["M110",gy(3),"H62V",gy(4),"H110"],["M64",m2,"H57V",m3,"H62"],
["M110",gy(7),"H67V",gy(8),"H110"],["M110",gy(6),"H64V",m5,"H67"],["M110",gy(5),"H59V",m6,"H64"],["M57",m4,"H52V",m7,"H59"]];
P.forEach(p=>mk("path",{d:p[0]+","+p[1]+p[2]+p[3]+p[4]},dd));
const leg=[["Risk",83,[["Low","#4DB6D3"],["High","#E64B35"]]],["Age",187,[["<=60","#F8F24A"],[">60","#F78A1A"]]],["Gender",296,[["Male","#74EEC6"],["Female","#F4C2EC"]]],
["Grade",421,[["G1","#EE6FD6"],["G2","#E23FE3"],["G3","#BE3FDE"],["G4","#8340E2"]]],["Stage",514,[["Stage1","#35D8E4"],["Stage2","#32B2E8"],["Stage3","#3A7EE6"],["Stage4","#3444E8"]]],
["Status",637,[["Alive","#3CFA0C"],["Dead","#FA2A0A"]]]];
leg.forEach(L=>{const t=txt(L[0],{x:L[1],y:1394,"font-family":"Liberation Sans","font-size":19},g);


L[2].forEach((it,k)=>{mk("rect",{x:L[1],y:1408+k*29.3,width:27,height:27,fill:it[1]},g);
const e=txt(it[0],{x:L[1]+37,y:1428+k*29.3,"font-family":"Liberation Sans","font-size":17},g);

});});
const defs=mk("defs",{},g);
const lg=mk("linearGradient",{id:"cbar",x1:0,y1:0,x2:0,y2:1},defs);
mk("stop",{offset:"0","stop-color":"#E64632"},lg);mk("stop",{offset:"0.5","stop-color":"#ffffff"},lg);mk("stop",{offset:"1","stop-color":"#5FD75F"},lg);
const cb=mk("rect",{x:746,y:1380,width:27,height:162,fill:"url(#cbar)"},g);


[4,2,0,-2,-4].forEach((v,k)=>{mk("line",{x1:746,x2:750,y1:1384+k*38.5,y2:1384+k*38.5,stroke:"#fff"},g);mk("line",{x1:769,x2:773,y1:1384+k*38.5,y2:1384+k*38.5,stroke:"#fff"},g);
const e=txt(v<0?"\u2212"+(-v):String(v),{x:780,y:1390+k*38.5,"font-family":"Liberation Sans","font-size":16},g);

});
})();

function forest(gid,top,hdr,bot,rowY0,rowStep,vars,hr,lo,hi,pv,ticks,x0px,perUnit,nm){
const g=document.getElementById(gid);
const xs=v=>x0px+v*perUnit;
[top,hdr,bot].forEach(y=>mk("line",{x1:883,x2:1465,y1:y,y2:y,stroke:"#222","stroke-width":1.8},g));
const hy=(top+hdr)/2+5;
txt("variate",{x:937,y:hy,"text-anchor":"middle","font-family":"Liberation Sans","font-size":14},g);
txt("HR (95% CI)",{x:1100,y:hy,"text-anchor":"middle","font-family":"Liberation Sans","font-size":14},g);
const pt=txt("",{x:1425,y:hy,"text-anchor":"middle","font-family":"Liberation Sans","font-size":14},g);
const s1=mk("tspan",{"font-style":"italic","font-family":"Liberation Serif","font-size":19},pt);s1.textContent="p";
const s2=mk("tspan",{},pt);s2.textContent=" value";
let dl=mk("line",{x1:xs(1),x2:xs(1),y1:hdr+2,y2:bot,stroke:"#000","stroke-width":1.4,"stroke-dasharray":"6,5"},g);


vars.forEach((v,i)=>{const y=rowY0+i*rowStep;
let e=txt(v,{x:937,y:y+5,"text-anchor":"middle","font-family":"Liberation Sans","font-size":14},g);


e=txt(hr[i].toFixed(3)+" ("+lo[i].toFixed(3)+"\u2212"+hi[i].toFixed(3)+")",{x:1100,y:y+5,"text-anchor":"middle","font-family":"Liberation Sans","font-size":14},g);


e=txt(pv[i],{x:1427,y:y+5,"text-anchor":"middle","font-family":"Liberation Sans","font-size":14},g);


const ci=mk("path",{d:`M${xs(lo[i])},${y-7}V${y+7}M${xs(lo[i])},${y}H${xs(hi[i])}M${xs(hi[i])},${y-7}V${y+7}`,stroke:"#000","stroke-width":1.5,fill:"none"},g);


const c=mk("circle",{cx:xs(hr[i]),cy:y,r:5,fill:"#F20000"},g);

});
ticks.forEach(t=>{mk("line",{x1:xs(t),x2:xs(t),y1:bot,y2:bot+6,stroke:"#000"},g);
const e=txt(String(t),{x:xs(t),y:bot+20,"text-anchor":"middle","font-family":"Liberation Sans","font-size":11},g);

});
}
forest("pG",840,892,1151,918,52,forestGVars,forestGHR,forestGLo,forestGHi,forestGP,forestGTicks,1215,10.8,"forest-g");
forest("pH",1223,1286,1534,1317,62,forestHVars,forestHHR,forestHLo,forestHHi,forestHP,forestHTicks,1212,15.9,"forest-h");
</script>
</body></html>
